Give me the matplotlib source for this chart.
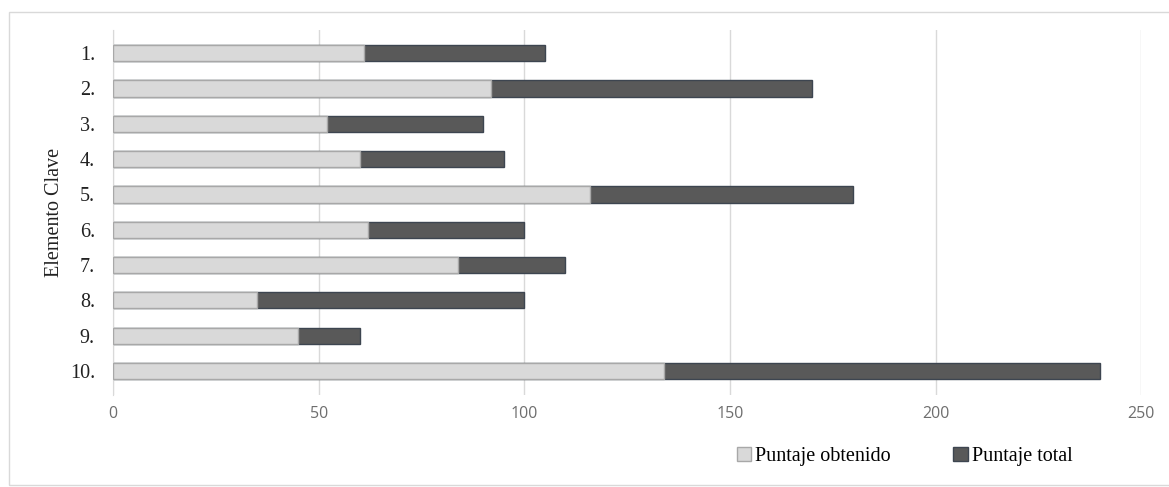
import matplotlib.pyplot as plt
from matplotlib.patches import Rectangle

elementos = ['1.', '2.', '3.', '4.', '5.', '6.', '7.', '8.', '9.', '10.']
puntaje_obtenido = [61, 92, 52, 60, 116, 62, 84, 35, 45, 134]
puntaje_total = [105, 170, 90, 95, 180, 100, 110, 100, 60, 240]

serif = 'Liberation Serif'
sans = 'Open Sans'

fig = plt.figure(figsize=(11.69, 4.87), dpi=100)
ax = fig.add_axes([0.0967, 0.189, 0.8795, 0.749])

y = range(len(elementos))
ax.barh(y, puntaje_total, height=0.46, color='#595959', edgecolor='#3d4550',
        linewidth=1.0, label='Puntaje total', zorder=2)
ax.barh(y, puntaje_obtenido, height=0.46, color='#d9d9d9', edgecolor='#a8a8a8',
        linewidth=1.0, label='Puntaje obtenido', zorder=3)

ax.set_xlim(0, 250)
ax.set_ylim(len(elementos) - 1 + 0.68, -0.65)
ax.set_xticks([0, 50, 100, 150, 200, 250])
ax.set_yticks(list(y))
ax.set_yticklabels(elementos, fontfamily=serif, fontsize=14.5, color='#222222')
for lbl in ax.get_xticklabels():
    lbl.set_fontfamily(sans)
    lbl.set_fontsize(11.5)
    lbl.set_color('#6e6e6e')
ax.tick_params(axis='both', length=0)
ax.tick_params(axis='x', pad=8)
ax.tick_params(axis='y', pad=13)

ax.grid(axis='x', color='#d9d9d9', linewidth=1.0, zorder=0)
ax.set_axisbelow(True)
for side in ['top', 'right', 'bottom']:
    ax.spines[side].set_visible(False)
ax.spines['left'].set_color('#d9d9d9')

ax.set_ylabel('Elemento Clave', fontfamily=serif, fontsize=14.5, color='#222222',
              labelpad=4)

handles, labels = ax.get_legend_handles_labels()
fig.legend(handles[::-1], labels[::-1], loc='center', bbox_to_anchor=(0.774, 0.062),
           ncol=2, frameon=False, prop={'family': serif, 'size': 14.5},
           handlelength=0.7, handleheight=0.7, handletextpad=0.2, columnspacing=3.1)

# thin outline around the chart area
fig.patches.append(Rectangle((9 / 1169, 0.004), 1.0, 1 - 12 / 487 - 0.004,
                             transform=fig.transFigure, fill=False,
                             edgecolor='#d9d9d9', linewidth=1.0))

fig.savefig('out.png', dpi=100)
